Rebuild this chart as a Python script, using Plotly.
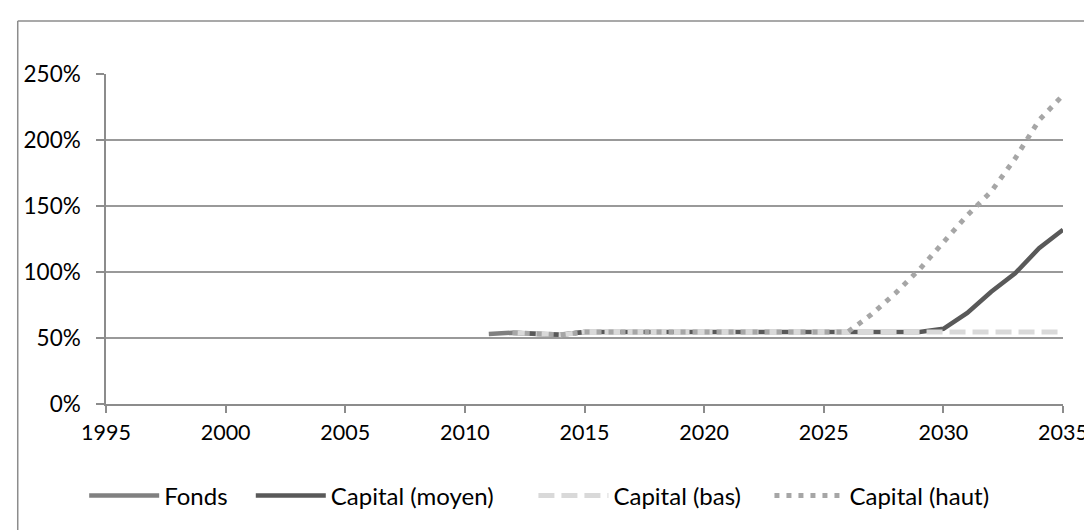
import plotly.graph_objects as go

years_fonds = [2011, 2012, 2013, 2014, 2015]
fonds = [53, 54, 53, 52.5, 54.5]

years_cap = [2012, 2013, 2014, 2015, 2016, 2017, 2018, 2019, 2020, 2021, 2022, 2023,
             2024, 2025, 2026, 2027, 2028, 2029, 2030, 2031, 2032, 2033, 2034, 2035]
cap_moyen = [54, 53, 52.5, 54.5, 54.5, 54.5, 54.5, 54.5, 54.5, 54.5, 54.5, 54.5,
             54.5, 54.5, 54.5, 54.5, 54.5, 54.5, 57, 69, 85, 99, 118, 132]
cap_bas = [54, 53, 52.5, 54.5, 54.5, 54.5, 54.5, 54.5, 54.5, 54.5, 54.5, 54.5,
           54.5, 54.5, 54.5, 54.5, 54.5, 54.5, 54.5, 54.5, 54.5, 54.5, 54.5, 54.5]
cap_haut = [54, 53, 52.5, 54.5, 54.5, 54.5, 54.5, 54.5, 54.5, 54.5, 54.5, 54.5,
            54.5, 54.5, 54.5, 68, 84, 102, 123, 143, 161, 186, 215, 234]

x_ticks = [1995, 2000, 2005, 2010, 2015, 2020, 2025, 2030, 2035]
y_ticks = [0, 50, 100, 150, 200, 250]
y_labels = ["0%", "50%", "100%", "150%", "200%", "250%"]

FONT = "Lato, 'Open Sans', sans-serif"

# plot-area pixel frame
L = 98; R = 1063; T = 66; B = 396
W = R - L; H = B - T
LEG_Y = (B - 488) / H

def px_x(p):
    return (p - L) / W

fig = go.Figure()
fig.add_trace(go.Scatter(x=years_fonds, y=fonds, name="Fonds", mode="lines",
                         line=dict(color="#808080", width=4.5), legend="legend"))
fig.add_trace(go.Scatter(x=years_cap, y=cap_moyen, name="Capital (moyen)", mode="lines",
                         line=dict(color="#595959", width=4.5), legend="legend2"))
fig.add_trace(go.Scatter(x=years_cap, y=cap_bas, name="Capital (bas)", mode="lines",
                         line=dict(color="#d9d9d9", width=5, dash="16px,7px"),
                         legend="legend3"))
fig.add_trace(go.Scatter(x=years_cap, y=cap_haut, name="Capital (haut)", mode="lines",
                         line=dict(color="#a6a6a6", width=5, dash="5px,7px"),
                         legend="legend4"))

# outer chart border (only top and left edges visible)
bx = px_x(9)
by = (B - 13) / H
fig.add_shape(type="line", xref="paper", yref="paper", x0=bx, x1=1.1, y0=by, y1=by,
              line=dict(color="#8c8c8c", width=1.5))
fig.add_shape(type="line", xref="paper", yref="paper", x0=bx, x1=bx, y0=by, y1=-0.6,
              line=dict(color="#8c8c8c", width=1.5))

def leg(xpix):
    return dict(orientation="h", x=px_x(xpix), xanchor="left", y=LEG_Y,
                yanchor="middle", font=dict(size=24, color="black"), itemwidth=70,
                bgcolor="rgba(0,0,0,0)")

fig.update_layout(
    width=1092, height=530,
    margin=dict(l=L, r=1092 - R, t=T, b=530 - B),
    paper_bgcolor="white", plot_bgcolor="white",
    font=dict(family=FONT, size=22, color="black"),
    showlegend=True,
    legend=leg(76), legend2=leg(244), legend3=leg(529), legend4=leg(767),
    xaxis=dict(range=[1995, 2035], tickmode="array", tickvals=x_ticks,
               ticktext=[str(v) for v in x_ticks], showgrid=False, zeroline=False,
               showline=True, linecolor="#8c8c8c", linewidth=1.5,
               ticks="outside", ticklen=7, tickcolor="#8c8c8c", tickwidth=1.5,
               ticklabelstandoff=1, tickfont=dict(size=21.5)),
    yaxis=dict(range=[0, 250], tickmode="array", tickvals=y_ticks, ticktext=y_labels,
               showgrid=True, gridcolor="#999999", gridwidth=1.5, zeroline=False,
               showline=True, linecolor="#8c8c8c", linewidth=1.5,
               ticks="outside", ticklen=8, tickcolor="#8c8c8c", tickwidth=1.5,
               ticklabelstandoff=11, tickfont=dict(size=22.5)),
)

fig.write_html("out.html")
